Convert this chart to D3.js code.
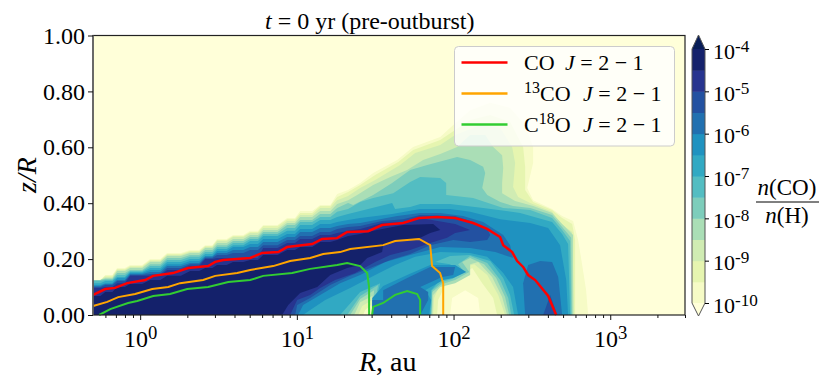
<!DOCTYPE html>
<html>
<head>
<meta charset="utf-8">
<script src="https://cdn.jsdelivr.net/npm/d3@7"></script>
<style>
  html, body { margin: 0; padding: 0; background: #fff; }
  text { font-family: "Liberation Serif", serif; fill: #000; }
  .math { font-style: italic; }
</style>
</head>
<body>
<script>
const width = 831;
const height = 384;

// abundance bands, log10 n(CO)/n(H), one colour per half decade
const levels = [-10, -9.5, -9, -8.5, -8, -7.5, -7, -6.5, -6, -5.5, -5, -4.5];
const bandColors = ['#f6fbc6', '#e6f5b0', '#d0ecb3', '#aadeb6', '#7dcdbb', '#53bdc2',
  '#31a9c3', '#1f92c0', '#2170b0', '#2351a1', '#27348f', '#14216b'];
const cbarTicks = [-10, -9, -8, -7, -6, -5, -4];
const xMajor = [1, 10, 100, 1000];
const xMinor = [0.6, 0.7, 0.8, 0.9, 2, 3, 4, 5, 6, 7, 8, 9, 20, 30, 40, 50, 60, 70, 80, 90,
  200, 300, 400, 500, 600, 700, 800, 900, 2000, 3000];
const yMajor = [0, 0.2, 0.4, 0.6, 0.8, 1];

// upper edge of each band in the inner disk: stairs over log10 R
const wedgeLogR = [-0.30, -0.223, -0.147, -0.064, 0.064, 0.172, 0.319, 0.415, 0.491, 0.593, 0.702, 0.785, 0.938, 1.021, 1.149, 1.257];
const wedgeTop = [
  [.125, .143, .168, .179, .200, .222, .233, .250, .272, .286, .301, .322, .347, .372, .394, .433],
  [.125, .140, .165, .175, .197, .218, .229, .247, .268, .283, .297, .318, .343, .365, .390, .422],
  [.125, .136, .161, .172, .193, .215, .225, .243, .265, .279, .293, .311, .336, .358, .383, .411],
  [.125, .132, .157, .168, .190, .211, .222, .240, .258, .272, .286, .304, .329, .351, .372, .397],
  [.125, .129, .150, .161, .182, .204, .215, .233, .250, .265, .279, .297, .322, .340, .361, .383],
  [.122, .125, .143, .157, .175, .197, .208, .225, .243, .258, .272, .290, .311, .333, .351, .369],
  [.114, .122, .136, .154, .168, .190, .200, .218, .236, .250, .265, .283, .301, .322, .340, .351],
  [.107, .114, .132, .150, .161, .182, .193, .211, .229, .243, .254, .272, .290, .308, .326, .333],
  [.104, .111, .125, .147, .154, .175, .186, .208, .222, .233, .243, .261, .279, .297, .311, .318],
  [.100, .107, .122, .143, .147, .168, .182, .204, .215, .222, .233, .250, .268, .283, .297, .308],
  [.097, .100, .114, .140, .140, .161, .175, .200, .204, .204, .204, .240, .258, .272, .286, .293],
  [.068, .082, .100, .111, .125, .140, .157, .168, .179, .190, .197, .215, .233, .243, .261, .268]
];

// continuation of each band's outer edge, [log10 R, z/R]
const outerEdge = [
  [[1.327,.447],[1.404,.472],[1.487,.508],[1.640,.555],[1.742,.601],[1.915,.637],[1.998,.680],[2.106,.733],[2.234,.759],[2.361,.741],[2.457,.680],[2.508,.601],[2.508,.544],[2.470,.454],[2.508,.411],[2.629,.379],[2.693,.354],[2.763,.336],[2.795,.268],[2.821,.179],[2.846,.089],[2.859,0]],
  [[1.327,.440],[1.404,.465],[1.500,.501],[1.647,.547],[1.742,.590],[1.915,.626],[1.991,.655],[2.106,.698],[2.234,.716],[2.361,.691],[2.444,.601],[2.457,.530],[2.457,.447],[2.508,.404],[2.629,.376],[2.693,.347],[2.757,.326],[2.776,.268],[2.776,0]],
  [[1.327,.426],[1.404,.454],[1.500,.483],[1.659,.537],[1.755,.580],[1.915,.608],[2.010,.644],[2.170,.680],[2.298,.669],[2.374,.601],[2.393,.544],[2.380,.458],[2.412,.422],[2.489,.401],[2.629,.369],[2.680,.329],[2.757,.297],[2.770,0]],
  [[1.327,.411],[1.385,.429],[1.487,.465],[1.596,.494],[1.704,.519],[1.806,.555],[1.915,.576],[2.023,.601],[2.106,.644],[2.202,.644],[2.253,.601],[2.310,.572],[2.317,.526],[2.310,.472],[2.310,.436],[2.393,.408],[2.508,.390],[2.629,.365],[2.693,.326],[2.763,.286],[2.763,0]],
  [[1.327,.401],[1.359,.394],[1.487,.429],[1.608,.472],[1.723,.519],[1.832,.537],[2.023,.565],[2.106,.555],[2.189,.530],[2.202,.508],[2.183,.454],[2.215,.429],[2.298,.404],[2.380,.390],[2.489,.383],[2.629,.358],[2.693,.315],[2.751,.276],[2.757,0]],
  [[1.327,.379],[1.404,.404],[1.487,.419],[1.615,.436],[1.723,.476],[1.787,.494],[1.915,.490],[1.953,.472],[1.953,.429],[2.125,.419],[2.317,.383],[2.489,.376],[2.629,.347],[2.693,.304],[2.744,.265],[2.751,0]],
  [[1.327,.361],[1.404,.372],[1.506,.386],[1.608,.401],[1.627,.379],[1.723,.386],[1.787,.397],[1.978,.397],[2.189,.383],[2.425,.365],[2.629,.333],[2.693,.290],[2.731,.254],[2.744,0]],
  [[1.327,.340],[1.404,.347],[1.506,.354],[1.608,.361],[1.787,.379],[1.978,.379],[2.106,.369],[2.298,.343],[2.489,.329],[2.604,.311],[2.680,.250],[2.719,.125],[2.731,0]],
  [[1.327,.326],[1.404,.329],[1.506,.340],[1.640,.354],[1.787,.365],[1.915,.365],[2.061,.354],[2.189,.333],[2.317,.286],[2.361,.250],[2.380,.204]],
  [[1.327,.315],[1.404,.318],[1.544,.336],[1.678,.343],[1.787,.358],[2.010,.354],[2.125,.333],[2.215,.308],[2.234,.286]],
  [[1.327,.301],[1.404,.308],[1.544,.329],[1.678,.333],[1.787,.347],[2.010,.326],[2.106,.304]],
  [[1.327,.283],[1.404,.290],[1.487,.301],[1.678,.322],[1.870,.326],[1.915,.304]]
];

// return path of each band along the cavity side, back to z = 0
const innerEdge = [
  [[2.170,0],[2.157,.061],[2.074,.089],[1.991,.061],[1.978,0]],
  [[2.278,0],[2.253,.061],[2.183,.114],[2.119,.168],[2.081,.154],[2.010,.125],[1.947,.107],[1.902,.054],[1.895,0],[1.481,0],[1.474,.036],[1.436,.018],[1.423,0]],
  [[2.329,0],[2.285,.072],[2.215,.143],[2.132,.182],[2.093,.175],[2.106,.154],[1.998,.122],[1.915,.111],[1.876,.061],[1.870,0],[1.481,0],[1.481,.054],[1.417,.032],[1.391,0]],
  [[2.342,0],[2.310,.064],[2.246,.136],[2.157,.190],[2.106,.182],[2.106,.143],[2.010,.114],[1.915,.100],[1.870,.072],[1.864,0],[1.481,0],[1.481,.068],[1.404,.046],[1.366,0]],
  [[2.355,0],[2.329,.064],[2.272,.132],[2.195,.182],[2.106,.204],[2.055,.190],[2.100,.154],[2.010,.125],[1.927,.111],[1.864,.082],[1.857,0],[1.481,0],[1.493,.089],[1.404,.057],[1.340,0]],
  [[2.368,0],[2.349,.061],[2.298,.125],[2.215,.186],[2.106,.211],[2.029,.182],[2.068,.154],[1.991,.129],[1.927,.118],[1.864,.089],[1.857,0],[1.481,0],[1.519,.107],[1.404,.068],[1.321,0]],
  [[2.387,0],[2.361,.072],[2.317,.132],[2.234,.193],[2.106,.215],[1.978,.211],[1.883,.190],[1.978,.182],[2.029,.157],[1.978,.132],[1.915,.125],[1.857,.089],[1.851,0],[1.481,0],[1.532,.114],[1.404,.082],[1.276,0]],
  [[2.412,0],[2.380,.100],[2.317,.150],[2.215,.208],[2.106,.222],[1.915,.225],[1.755,.208],[1.627,.179],[1.500,.143],[1.340,.097],[1.181,.054],[1.085,.018],[1.040,0]],
  [[2.266,.225],[2.106,.240],[1.915,.243],[1.723,.215],[1.564,.190],[1.404,.143],[1.276,.114],[1.149,.072],[1.040,.036],[1.008,0]],
  [[2.215,.268],[2.106,.261],[1.998,.268],[1.851,.250],[1.723,.218],[1.596,.197],[1.468,.168],[1.340,.140],[1.213,.107],[1.085,.061],[1.002,.036],[.989,0]],
  [[2.010,.293],[1.959,.276],[1.851,.258],[1.723,.233],[1.596,.215],[1.500,.190],[1.372,.150],[1.244,.125],[1.149,.097],[1.085,.072],[1.002,.054],[.957,0]],
  [[1.851,.293],[1.787,.276],[1.615,.261],[1.551,.250],[1.544,.225],[1.449,.204],[1.404,.179],[1.321,.168],[1.213,.143],[1.130,.100],[1.021,.079],[.945,.036],[.906,0]]
];

// separate patches: the finger inside the cavity and the outer blob
const fingerBand7 = [[1.481,0],[1.481,.061],[1.551,.104],[1.704,.143],[1.851,.179],[2.010,.179],[2.081,.154],[1.998,.132],[1.934,.125],[1.819,.089],[1.857,.054],[1.844,0]];
const fingerBand8 = [[1.481,0],[1.481,.054],[1.551,.054],[1.551,.089],[1.704,.132],[1.851,.172],[2.010,.172],[1.998,.143],[1.927,.136],[1.787,.100],[1.838,.082],[1.838,.054],[1.787,0]];
const blobBand8 = [[2.476,.179],[2.553,.193],[2.629,.190],[2.668,.136],[2.693,0],[2.457,0],[2.444,.114]];
const blobBand9 = [[2.617,.072],[2.661,0],[2.572,0]];

// emission lines, [log10 R, z/R]
const lineCO = [[-.30,.072],[-.223,.093],[-.16,.097],[-.083,.114],[.032,.125],[.083,.14],[.21,.15],[.306,.168],[.434,.175],[.479,.19],[.53,.197],[.702,.204],[.779,.222],[.881,.225],[.938,.243],[1.098,.254],[1.161,.272],[1.257,.275],[1.321,.297],[1.455,.30],[1.544,.322],[1.678,.329],[1.78,.347],[1.895,.351],[2.01,.347],[2.125,.329],[2.214,.308],[2.297,.279],[2.317,.25],[2.374,.225],[2.406,.193],[2.444,.172],[2.476,.143],[2.521,.125],[2.604,.068],[2.655,0]];
const line13CO = [[-.30,.032],[-.21,.047],[-.14,.064],[-.032,.075],[.077,.093],[.179,.10],[.255,.114],[.402,.125],[.479,.14],[.619,.15],[.702,.161],[.849,.175],[.957,.193],[1.085,.204],[1.168,.218],[1.276,.225],[1.34,.236],[1.551,.25],[1.627,.265],[1.78,.272],[1.851,.25],[1.863,.175],[1.914,.15],[1.934,.114],[1.934,0]];
const lineC18O = [[-.262,0],[-.191,.021],[-.077,.043],[-.019,.05],[.083,.068],[.191,.075],[.30,.093],[.434,.10],[.562,.118],[.702,.125],[.785,.14],[.97,.15],[1.085,.165],[1.257,.179],[1.321,.186],[1.404,.175],[1.449,.15],[1.461,.10],[1.461,0]];
const lineC18Oinner = [[1.48,0],[1.487,.029],[1.551,.043],[1.627,.072],[1.704,.086],[1.768,.075],[1.787,.054],[1.787,0]];

let svg = d3
  .select('body')
  .append('svg')
  .attr('width', width)
  .attr('height', height)
  .style('display', 'block');

let x = d3.scaleLog().domain([0.5, 3000]).range([93, 685]);
let y = d3.scaleLinear().domain([0, 1]).range([315, 35.5]);
let line = d3.line().x((d) => x(Math.pow(10, d[0]))).y((d) => y(d[1]));

// plot background, below 1e-10
svg.append('rect')
  .attr('x', x(0.5))
  .attr('y', y(1))
  .attr('width', x(3000) - x(0.5))
  .attr('height', y(0) - y(1))
  .attr('fill', '#ffffd9');

// one closed outline per band, painted low to high
function bandRing(k) {
  const last = wedgeLogR.length - 1;
  const stairs = wedgeTop[k].flatMap(function (z, i) {
    if (i === last) return [[wedgeLogR[i], z]];
    // hold the level for most of the cell, then slope up to the next one
    const hold = wedgeLogR[i] + 0.6 * (wedgeLogR[i + 1] - wedgeLogR[i]);
    return [[wedgeLogR[i], z], [hold, z]];
  });
  return [[-0.30, 0], ...stairs, ...outerEdge[k], ...innerEdge[k]];
}

let field = svg.append('g');
levels.forEach(function (lev, k) {
  field.append('path')
    .attr('d', line(bandRing(k)) + 'Z')
    .attr('fill', bandColors[k]);
  if (k === 7) field.append('path').attr('d', line(fingerBand7) + 'Z').attr('fill', bandColors[7]);
  if (k === 8) {
    field.append('path').attr('d', line(fingerBand8) + 'Z').attr('fill', bandColors[8]);
    field.append('path').attr('d', line(blobBand8) + 'Z').attr('fill', bandColors[8]);
  }
  if (k === 9) field.append('path').attr('d', line(blobBand9) + 'Z').attr('fill', bandColors[9]);
});

const lineSets = [
  [lineCO, 'red', 2.5],
  [line13CO, 'orange', 2],
  [lineC18O, 'limegreen', 2],
  [lineC18Oinner, 'limegreen', 2]
];
lineSets.forEach(function (d) {
  svg.append('path')
    .attr('d', line(d[0]))
    .attr('fill', 'none')
    .attr('stroke', d[1])
    .attr('stroke-width', d[2]);
});

// frame
svg.append('rect')
  .attr('x', x(0.5))
  .attr('y', y(1))
  .attr('width', x(3000) - x(0.5))
  .attr('height', y(0) - y(1))
  .attr('fill', 'none')
  .attr('stroke', '#222')
  .attr('stroke-width', 1.2);
svg.append('line')
  .attr('x1', x(0.5)).attr('x2', x(0.5))
  .attr('y1', y(1)).attr('y2', y(0))
  .attr('stroke', '#666')
  .attr('stroke-width', 1.6);

// axes
function power(base, exp, node) {
  node.text(null);
  node.append('tspan').text(base);
  node.append('tspan').attr('dy', '-0.42em').style('font-size', '0.78em').text(exp);
}

let xAxis = svg.append('g').attr('transform', 'translate(0,' + y(0) + ')')
  .call(d3.axisBottom(x).tickValues(xMajor).tickSize(5).tickPadding(3).tickFormat(() => ''));
xAxis.selectAll('.tick text').style('font-size', '24px').attr('dy', '0.98em')
  .each(function (d) { power('10', String(Math.round(Math.log10(d))), d3.select(this)); });
svg.append('g').attr('transform', 'translate(0,' + y(0) + ')')
  .call(d3.axisBottom(x).tickValues(xMinor).tickSize(3).tickFormat(() => ''));

let yAxis = svg.append('g').attr('transform', 'translate(' + x(0.5) + ',0)')
  .call(d3.axisLeft(y).tickValues(yMajor).tickSize(5).tickPadding(3).tickFormat(d3.format('.2f')));
yAxis.selectAll('.tick text').style('font-size', '24px');
svg.selectAll('.domain').attr('stroke', 'none');
svg.selectAll('.tick line').attr('stroke', '#111');

// titles
let title = svg.append('text').attr('x', 265).attr('y', 29).style('font-size', '24px');
title.append('tspan').attr('class', 'math').text('t');
title.append('tspan').text(' = 0 yr (pre-outburst)');

let xLabel = svg.append('text').attr('x', 359).attr('y', 371).style('font-size', '28px');
xLabel.append('tspan').attr('class', 'math').text('R');
xLabel.append('tspan').text(', au');

let yLabel = svg.append('text')
  .attr('transform', 'translate(36,175) rotate(-90)')
  .attr('text-anchor', 'middle')
  .style('font-size', '28px');
yLabel.append('tspan').attr('class', 'math').text('z/R');

// legend
const legendNames = [['CO'], ['', '13', 'CO'], ['C', '18', 'O']];
const legendColors = ['red', 'orange', 'limegreen'];
const legendJ = [565, 583, 583];
let legend = svg.append('g');
legend.append('rect')
  .attr('x', 454.5).attr('y', 46.5)
  .attr('width', 220).attr('height', 99.5)
  .attr('rx', 4)
  .attr('fill', '#fff').attr('fill-opacity', 0.8)
  .attr('stroke', '#ccc');
legendNames.forEach(function (parts, i) {
  const rowY = 62.5 + i * 31;
  legend.append('line')
    .attr('x1', 461.5).attr('x2', 507.5)
    .attr('y1', rowY).attr('y2', rowY)
    .attr('stroke', legendColors[i]).attr('stroke-width', 2.5);
  let t = legend.append('text').attr('x', 524).attr('y', rowY + 7).style('font-size', '22px');
  t.append('tspan').text(parts[0]);
  if (parts.length > 1) {
    t.append('tspan').attr('dy', -8).style('font-size', '16px').text(parts[1]);
    t.append('tspan').attr('dy', 8).text(parts[2]);
  }
  t.append('tspan').attr('x', legendJ[i]).attr('class', 'math').text('J');
  t.append('tspan').text(' = 2 \u2212 1');
});

// colorbar
let cy = d3.scaleLinear().domain([-10, -4]).range([303, 49]);
const cbarX0 = 692;
const cbarX1 = 705;
const cbarMid = (cbarX0 + cbarX1) / 2;
let cbar = svg.append('g');
levels.forEach(function (lev, k) {
  cbar.append('rect')
    .attr('x', cbarX0)
    .attr('y', cy(lev + 0.5))
    .attr('width', cbarX1 - cbarX0)
    .attr('height', cy(lev) - cy(lev + 0.5) + 0.5)
    .attr('fill', bandColors[k]);
});
// extend arrows
cbar.append('path')
  .attr('d', 'M' + cbarX0 + ',' + cy(-4) + 'L' + cbarMid + ',' + (cy(-4) - 14) + 'L' + cbarX1 + ',' + cy(-4) + 'Z')
  .attr('fill', '#081d58');
cbar.append('path')
  .attr('d', 'M' + cbarX0 + ',' + cy(-10) + 'L' + cbarMid + ',' + (cy(-10) + 13) + 'L' + cbarX1 + ',' + cy(-10) + 'Z')
  .attr('fill', '#ffffd9');
cbar.append('path')
  .attr('d', 'M' + cbarX0 + ',' + cy(-4) + 'L' + cbarMid + ',' + (cy(-4) - 14) + 'L' + cbarX1 + ',' + cy(-4)
    + 'L' + cbarX1 + ',' + cy(-10) + 'L' + cbarMid + ',' + (cy(-10) + 13) + 'L' + cbarX0 + ',' + cy(-10) + 'Z')
  .attr('fill', 'none')
  .attr('stroke', '#555')
  .attr('stroke-width', 1);

let cAxis = svg.append('g').attr('transform', 'translate(' + cbarX1 + ',0)')
  .call(d3.axisRight(cy).tickValues(cbarTicks).tickSize(4).tickPadding(4).tickFormat(() => ''));
cAxis.selectAll('.tick text').style('font-size', '22px').attr('dy', '0.42em')
  .each(function (d) { power('10', String(d), d3.select(this)); });
cAxis.select('.domain').attr('stroke', 'none');

// colorbar label as a fraction
svg.append('text').attr('x', 787).attr('y', 195).attr('text-anchor', 'middle').style('font-size', '23px')
  .call(function (t) {
    t.append('tspan').attr('class', 'math').text('n');
    t.append('tspan').text('(CO)');
  });
svg.append('line').attr('x1', 756).attr('x2', 819).attr('y1', 202).attr('y2', 202).attr('stroke', '#000').attr('stroke-width', 1);
svg.append('text').attr('x', 787).attr('y', 223).attr('text-anchor', 'middle').style('font-size', '23px')
  .call(function (t) {
    t.append('tspan').attr('class', 'math').text('n');
    t.append('tspan').text('(H)');
  });
</script>
</body>
</html>
